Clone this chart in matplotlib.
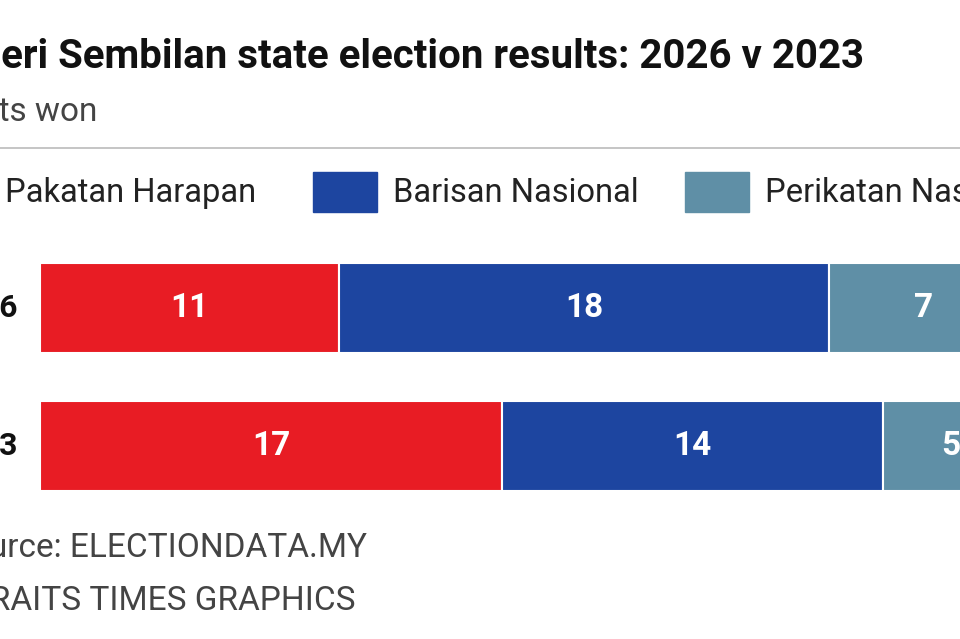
import matplotlib.pyplot as plt
from matplotlib.patches import Rectangle

plt.rcParams['font.family'] = ['Roboto', 'DejaVu Sans']

years = ['2026', '2023']
parties = ['Pakatan Harapan', 'Barisan Nasional', 'Perikatan Nasional']
colors = ['#e81c24', '#1d45a0', '#5f8fa6']
seats = {
  '2026': [11, 18, 7],
  '2023': [17, 14, 5],
}

W, H = 960, 639
fig = plt.figure(figsize=(W/100, H/100), dpi=100)

def fx(px):
  return px / W

def fy(py):
  return 1 - py / H

# axes placed in pixel space; 27.2 px per seat
px_per_seat = 27.2
ax = fig.add_axes([fx(40), fy(500), fx(W - 40), (500 - 255) / H])
ax.set_xlim(0, (W - 40) / px_per_seat)
ax.set_ylim(500, 255)
ax.axis('off')

bar_y = {'2026': 308, '2023': 446}
for yr in years:
  left = 0
  for val, col in zip(seats[yr], colors):
    ax.barh(bar_y[yr], val, left=left, height=90, color=col, edgecolor='white', lw=1.5, clip_on=False)
    ax.text(left + val / 2, bar_y[yr], str(val), ha='center', va='center',
            color='white', fontsize=24, fontweight='bold', clip_on=False)
    left += val
  fig.text(fx(-55), fy(bar_y[yr]), yr, ha='left', va='center', fontsize=23, fontweight='bold', color='#111111')

fig.text(fx(-72), fy(57), 'Negeri Sembilan state election results: 2026 v 2023',
         ha='left', va='center', fontsize=29, fontweight='bold', color='#111111')
fig.text(fx(-57), fy(112), 'Seats won', ha='left', va='center', fontsize=24, color='#444444')
fig.add_artist(plt.Line2D([0, 1], [fy(148), fy(148)], transform=fig.transFigure, color='#bbbbbb', lw=1.2))

# legend
leg_sq = [-75, 313, 685]
for x0, name, col in zip(leg_sq, parties, colors):
  fig.add_artist(Rectangle((fx(x0), fy(212)), fx(64), 40 / H, transform=fig.transFigure, color=col))
  fig.text(fx(x0 + 80), fy(193), name, ha='left', va='center', fontsize=23.5, color='#222222')

fig.text(fx(-50), fy(548), 'Source: ELECTIONDATA.MY', ha='left', va='center', fontsize=24, color='#444444')
fig.text(fx(-50), fy(601), 'STRAITS TIMES GRAPHICS', ha='left', va='center', fontsize=24, color='#444444')

plt.savefig('out.png', dpi=100)
